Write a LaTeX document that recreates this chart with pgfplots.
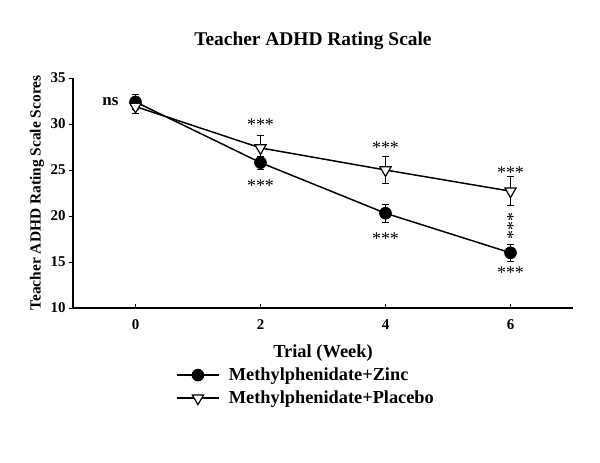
\documentclass[border=0pt]{standalone}
\usepackage{fontspec}
\setmainfont{Liberation Serif}
\usepackage{pgfplots}
\pgfplotsset{compat=1.18}

\begin{document}
\begin{tikzpicture}
\begin{axis}[
    width=500bp, height=230bp, scale only axis,
    xmin=-1, xmax=7, ymin=10, ymax=35,
    axis lines*=left,
    axis line style={line width=1.5pt},
    xtick={0,2,4,6}, ytick={10,15,20,25,30,35},
    tick style={black, line width=1pt},
    xtick align=inside, ytick align=outside,
    major tick length=4bp,
    tick label style={font=\bfseries\fontsize{15}{17}\selectfont},
    xticklabel style={yshift=-8bp},
    /pgf/number format/assume math mode=true,
    title={Teacher ADHD Rating Scale},
    title style={font=\bfseries\fontsize{19.5}{22}\selectfont,
        at={(axis description cs:0.48,1.135)}, anchor=center},
    xlabel={Trial (Week)},
    xlabel style={font=\bfseries\fontsize{18.5}{21}\selectfont,
        at={(axis description cs:0.5,-0.195)}, anchor=center},
    ylabel={Teacher ADHD Rating Scale Scores},
    ylabel style={font=\bfseries\fontsize{15.5}{18}\selectfont,
        at={(axis description cs:-0.072,0.5)}, anchor=center},
    clip=false,
    legend style={draw=none, fill=none, at={(rel axis cs:0.206,-0.246)},
        anchor=north west, inner sep=0pt, row sep=2.5bp,
        font=\bfseries\fontsize{18.4}{21}\selectfont,
        nodes={inner sep=3.2bp}},
    legend cell align=left,
    legend image code/.code={
        \draw[line width=1.5pt] (0bp,0bp) -- (42bp,0bp);
        \draw[#1, only marks] plot coordinates {(21bp,0bp)};
        \path (48bp,0bp);
    },
]
% white canvas the size of the reference, placed from the axis corner
\path (rel axis cs:0,0) ++(-73bp,-155bp) rectangle ++(600bp,463bp);
\addplot[black, line width=1.5pt, mark=*, mark size=5.8bp,
    mark options={fill=black, line width=1pt},
    error bars/.cd, y dir=both, y explicit,
    error bar style={line width=1pt},
    error mark options={rotate=90, mark size=3.5bp, line width=1pt}]
    coordinates {
    (0,32.4) +- (0,0.8)
    (2,25.8) +- (0,0.7)
    (4,20.3) +- (0,1.0)
    (6,16.0) +- (0,0.95)
    };
\addlegendentry{Methylphenidate+Zinc}
\addplot[black, line width=1.5pt, mark=triangle*, mark size=6.5bp,
    mark options={fill=white, rotate=180, line width=1.2pt},
    error bars/.cd, y dir=both, y explicit,
    error bar style={line width=1pt},
    error mark options={rotate=90, mark size=3.5bp, line width=1pt}]
    coordinates {
    (0,31.9) +- (0,0.8)
    (2,27.4) +- (0,1.4)
    (4,25.0) +- (0,1.5)
    (6,22.7) +- (0,1.6)
    };
\addlegendentry{Methylphenidate+Placebo}
\node[font=\bfseries\fontsize{17}{19}\selectfont, anchor=base, yshift=-3.8bp]
    at (axis cs:-0.4,32.4) {ns};
\begin{scope}[every node/.style={font=\fontsize{18}{18}\selectfont, anchor=base, yshift=-8.5bp}]
\node at (axis cs:2,30.2) {***};
\node at (axis cs:2,23.6) {***};
\node at (axis cs:4,27.7) {***};
\node at (axis cs:4,17.8) {***};
\node at (axis cs:6,25.0) {***};
\node at (axis cs:6,14.1) {***};
\end{scope}
\node[font=\fontsize{18}{18}\selectfont, anchor=base, xshift=8.5bp, rotate=90]
    at (axis cs:6,18.9) {***};
\end{axis}
\end{tikzpicture}
\end{document}
